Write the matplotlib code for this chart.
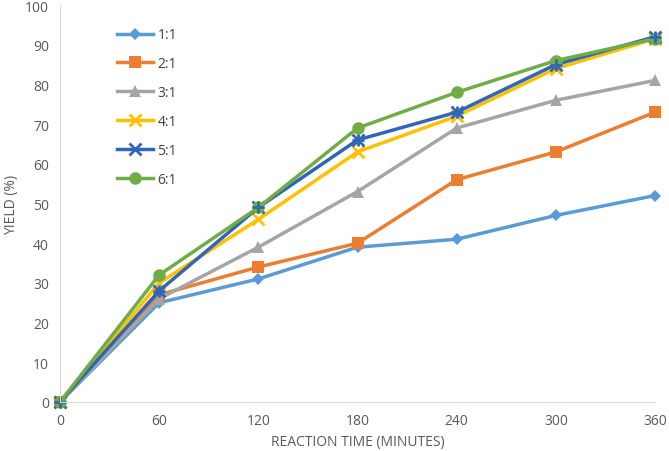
import matplotlib
matplotlib.use("Agg")
import matplotlib.pyplot as plt

times = [0, 60, 120, 180, 240, 300, 360]
labels = ["1:1", "2:1", "3:1", "4:1", "5:1", "6:1"]
y_11 = [0, 25, 31, 39, 41, 47, 52]
y_21 = [0, 27, 34, 40, 56, 63, 73]
y_31 = [0, 26, 39, 53, 69, 76, 81]
y_41 = [0, 30, 46, 63, 72, 84, 91.5]
y_51 = [0, 28, 49, 66, 73, 85, 92]
y_61 = [0, 32, 49, 69, 78, 86, 91.5]
series = [y_11, y_21, y_31, y_41, y_51, y_61]
colors = ["#5B9BD5", "#ED7D31", "#A5A5A5", "#FFC000", "#2F66B8", "#70AD47"]
markers = ["D", "s", "^", "x", "x", "o"]
msizes = [6, 8, 8, 8, 8, 9]

plt.rcParams['font.family'] = ['Open Sans', 'DejaVu Sans']
fig = plt.figure(figsize=(6.69, 4.52), dpi=100)
ax = fig.add_axes([60/669, 1 - 403/452, 595/669, 397/452])

for y, c, m, ms, lab in zip(series, colors, markers, msizes, labels):
    kw = dict(markeredgewidth=2) if m == "x" else dict(markeredgewidth=0)
    ax.plot(times, y, color=c, marker=m, markersize=ms, linewidth=2.5, label=lab,
            clip_on=False, **kw)
# star-like marker overlay for 5:1
ax.plot(times, y_51, linestyle="none", marker="+", markersize=8, markeredgewidth=2,
        color=colors[4], clip_on=False)

ax.set_xlim(0, 360)
ax.set_ylim(0, 100)
ax.set_xticks(times)
ax.set_yticks(range(0, 101, 10))
for s in ["top", "right"]:
    ax.spines[s].set_visible(False)
for s in ["left", "bottom"]:
    ax.spines[s].set_color("#D9D9D9")
ax.tick_params(length=0, colors="#595959", labelsize=10, pad=8)
ax.set_xlabel("REACTION TIME (MINUTES)", color="#595959", fontsize=10, labelpad=4)
ax.set_ylabel("YIELD (%)", color="#595959", fontsize=10, labelpad=4)

leg = ax.legend(loc="upper left", bbox_to_anchor=(0.075, 0.975), frameon=False,
                fontsize=10, handlelength=2.6, labelspacing=1.0, handletextpad=0.3,
                labelcolor="#404040")
fig.savefig("out.png", dpi=100)
